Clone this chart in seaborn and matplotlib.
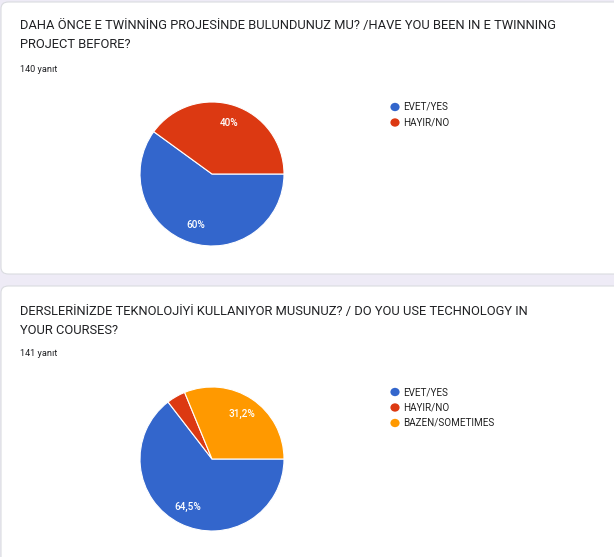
import matplotlib
matplotlib.use("Agg")
import matplotlib.pyplot as plt
from matplotlib.patches import FancyBboxPatch
import seaborn as sns

# --- data ---
q1_title = ["DAHA ÖNCE E TWİNNİNG PROJESİNDE BULUNDUNUZ MU? /HAVE YOU BEEN IN E TWINNING",
            "PROJECT BEFORE?"]
q1_count = "140 yanıt"
q1_labels = ["EVET/YES", "HAYIR/NO"]
q1_values = [84, 56]
q1_pct = ["60%", "40%"]

q2_title = ["DERSLERİNİZDE TEKNOLOJİYİ KULLANIYOR MUSUNUZ? / DO YOU USE TECHNOLOGY IN",
            "YOUR COURSES?"]
q2_count = "141 yanıt"
q2_labels = ["EVET/YES", "HAYIR/NO", "BAZEN/SOMETIMES"]
q2_values = [91, 6, 44]
q2_pct = ["64,5%", "", "31,2%"]

colors = ["#3366cc", "#dc3912", "#ff9900"]

sns.set_style("white")
plt.rcParams["font.family"] = ["Roboto", "DejaVu Sans"]

W, H = 614, 557
fig = plt.figure(figsize=(W / 100, H / 100), dpi=100)
fig.patch.set_facecolor("#eeebf6")


def fx(x):
    return x / W


def fy(y):
    return 1 - y / H


def card(top, bottom):
    p = FancyBboxPatch((fx(1), fy(bottom)), fx(640), (bottom - top) / H,
                       boxstyle="round,pad=0,rounding_size=0.012",
                       transform=fig.transFigure, facecolor="white",
                       edgecolor="#dadce0", linewidth=0.8, zorder=-5)
    fig.patches.append(p)


def block(y0, title, count, labels, values, pct):
    fig.text(fx(20), fy(y0), title[0], fontsize=9.25, color="#202124", va="center")
    fig.text(fx(20), fy(y0 + 19), title[1], fontsize=9.25, color="#202124", va="center")
    fig.text(fx(20), fy(y0 + 43), count, fontsize=6.6, color="#202124", va="center")

    cy = y0 + 148
    r = 72
    ax = fig.add_axes([fx(212 - r), fy(cy + r), 2 * r / W, 2 * r / H], zorder=2)
    ax.patch.set_alpha(0)
    wedges, texts, autotexts = ax.pie(
        values, colors=colors[:len(values)], startangle=0, counterclock=False,
        radius=1, labels=None, autopct=lambda p: "", pctdistance=0.75,
        wedgeprops=dict(edgecolor="white", linewidth=0.8))
    for t, s in zip(autotexts, pct):
        t.set_text(s)
        t.set_color("white")
        t.set_fontsize(7.2)
        t.set_fontweight("medium")
    ax.set_xlim(-1.0, 1.0)
    ax.set_ylim(-1.0, 1.0)
    ax.set_aspect("equal")
    ax.axis("off")

    ly = y0 + 81
    for i, lab in enumerate(labels):
        yy = ly + i * 15.5
        fig.patches.append(plt.Circle((fx(395), fy(yy)), 4.6 / W, transform=fig.transFigure,
                                      facecolor=colors[i], edgecolor="none", zorder=3))
        fig.text(fx(403), fy(yy), lab, fontsize=7.1, color="#222222", va="center")


card(2, 274)
card(286, 600)
block(26, q1_title, q1_count, q1_labels, q1_values, q1_pct)
block(311, q2_title, q2_count, q2_labels, q2_values, q2_pct)

fig.savefig("out.png", dpi=100, facecolor=fig.get_facecolor())
